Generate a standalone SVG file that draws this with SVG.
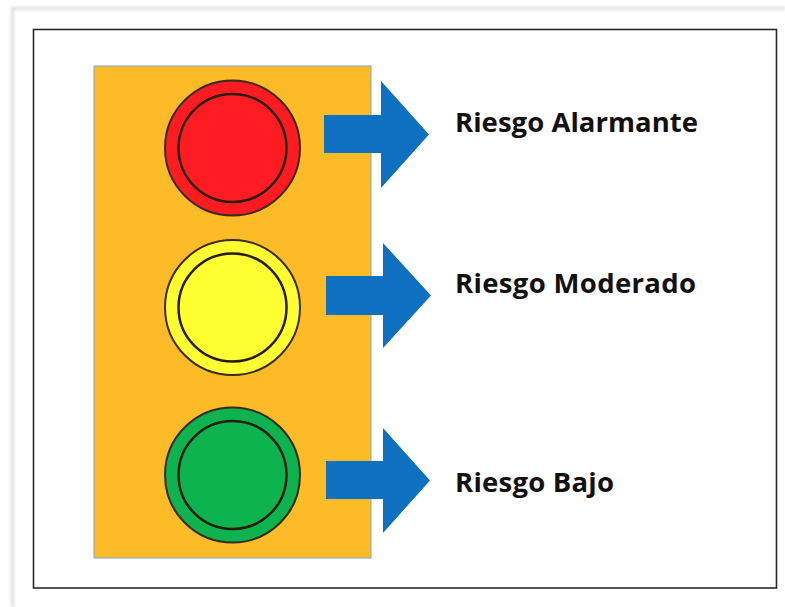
<svg xmlns="http://www.w3.org/2000/svg" width="785" height="607" viewBox="0 0 785 607">
<defs><filter id="soft" x="-5%" y="-5%" width="110%" height="110%"><feGaussianBlur stdDeviation="0.6"/></filter>
<filter id="blur2" x="-5%" y="-5%" width="110%" height="110%"><feGaussianBlur stdDeviation="1.5"/></filter></defs>
<style>
.outer{fill:none;stroke-width:1.6;stroke:#2a2a2a}
.arrow{fill:#0a70c0}
.ring{stroke:#3a2a1a;stroke-width:2}
.inner{stroke:#2a1a10;stroke-width:2.500}
.label{font-family:"Open Sans","Noto Sans","Liberation Sans",sans-serif;font-weight:700;font-size:27.500px;fill:#111}
</style>
<rect width="785" height="607" fill="#fff"/>
<path d="M12.500 607V8.500H785" fill="none" stroke="#d8d8d8" stroke-width="2.500" filter="url(#blur2)"/>
<rect id="frame" class="outer" x="33.500" y="29.500" width="743" height="558.500"/>
<g id="housing"><rect x="94" y="66" width="277" height="492" fill="#fdbb27" stroke="#7fa8c0" stroke-width="1"/></g>
<g id="connectors" filter="url(#soft)">
<path class="arrow" d="M324 115H381V81L429 134.500L381 188V153H324Z"/>
<path class="arrow" d="M326 276H383V243L431 295.500L383 348V315H326Z"/>
<path class="arrow" d="M326 461H383V428L430 480.500L383 533V499H326Z"/>
</g>
<g id="light-red" filter="url(#soft)"><circle class="ring" cx="232.500" cy="148" r="67.500" fill="#fe1d20"/><circle class="inner" cx="232.500" cy="148" r="54" fill="#fe1d20"/></g>
<g id="light-yellow" filter="url(#soft)"><circle class="ring" cx="232.500" cy="307.500" r="67.500" fill="#ffff33"/><circle class="inner" cx="232.500" cy="307.500" r="54" fill="#ffff33"/></g>
<g id="light-green" filter="url(#soft)"><circle class="ring" cx="232.500" cy="475" r="67.500" fill="#0ab350"/><circle class="inner" cx="232.500" cy="475" r="54" fill="#0ab350"/></g>
<g id="label-alarmante"><text class="label" x="455" y="132" textLength="243">Riesgo Alarmante</text></g>
<g id="label-moderado"><text class="label" x="455" y="292.500" textLength="241">Riesgo Moderado</text></g>
<g id="label-bajo"><text class="label" x="455" y="491.500" textLength="159">Riesgo Bajo</text></g>
</svg>
